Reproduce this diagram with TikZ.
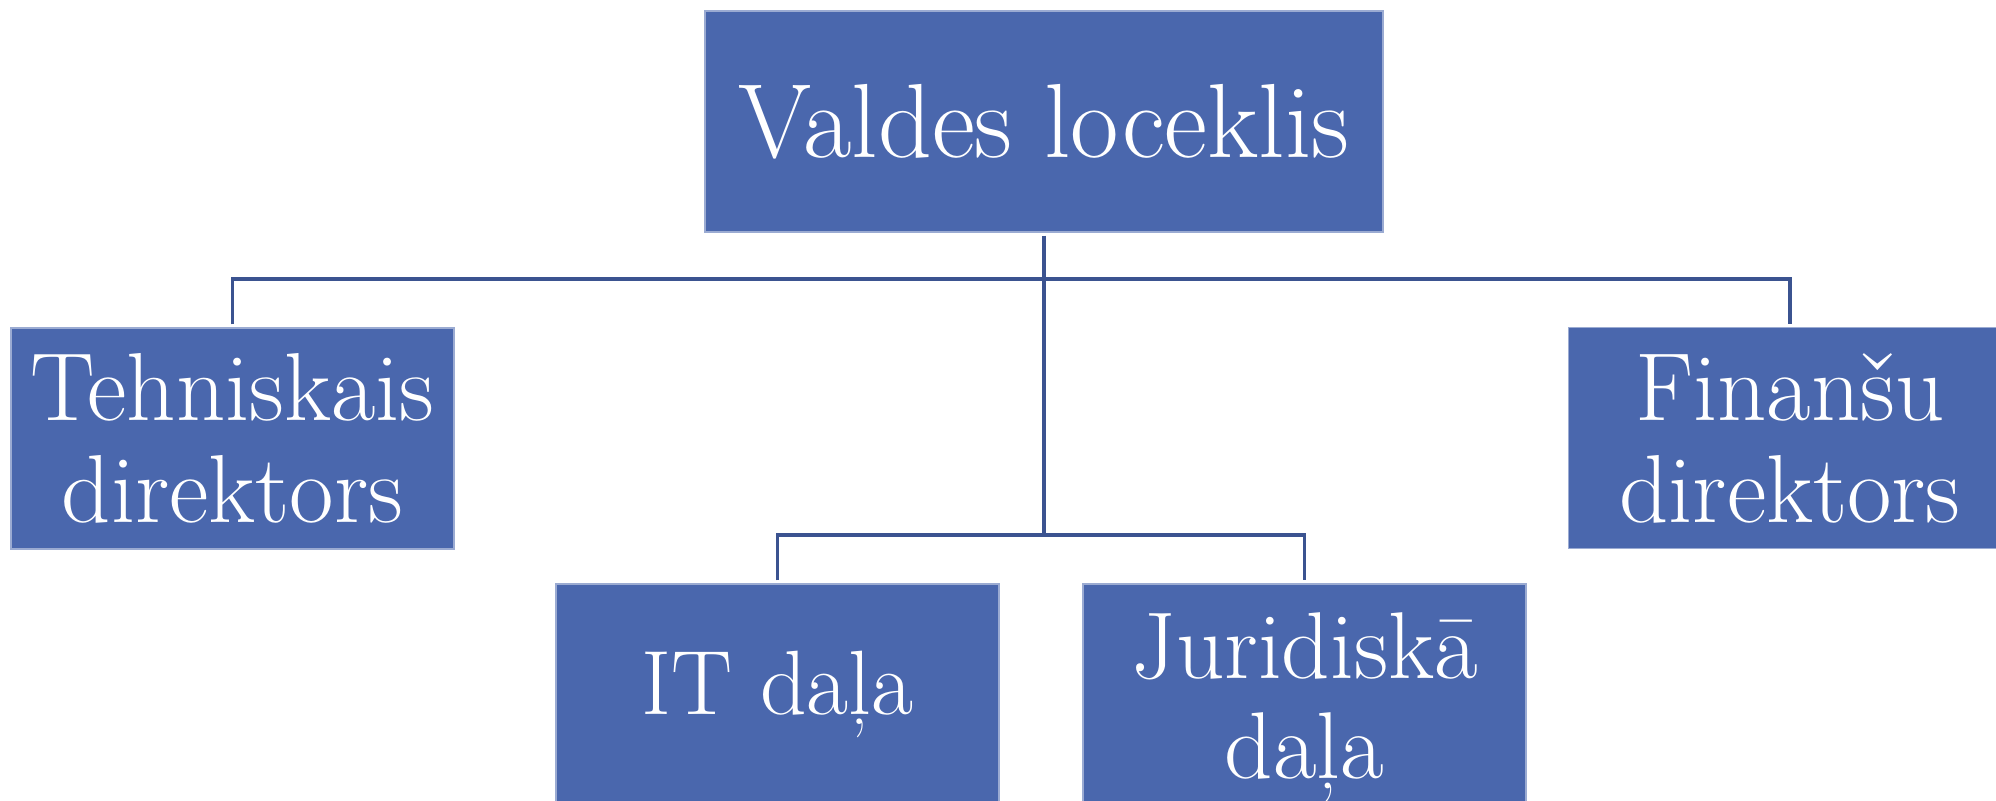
\documentclass[tikz,border=0pt]{standalone}
\usepackage{fontspec}
\definecolor{boxblue}{HTML}{4A67AD}
\definecolor{linkblue}{HTML}{3B5390}
\tikzset{
  unit/.style={rectangle, fill=boxblue, draw=boxblue!55!white, line width=0.4pt,
    text=white, minimum width=4.43cm, minimum height=2.21cm, align=center, inner sep=0pt},
  link/.style={draw=linkblue, line width=0.9pt}
}
\begin{document}
\begin{tikzpicture}
    \useasboundingbox (0,0) rectangle (19.96,-8.01);
    \clip (0,0) rectangle (19.96,-8.01);
    \node[unit, minimum width=6.78cm, font=\fontsize{30}{32}\selectfont] (V) at (10.44,-1.215)
      {Valdes loceklis};
    \node[unit, font=\fontsize{27.5}{29}\selectfont] (T) at (2.325,-4.385)
      {Tehniskais\\ direktors};
    \node[unit, font=\fontsize{27.5}{29}\selectfont] (F) at (17.90,-4.38)
      {Finanšu\\ direktors};
    \node[unit, font=\fontsize{26}{30}\selectfont] (IT) at (7.775,-6.945)
      {IT daļa};
    \node[unit, font=\fontsize{27}{28.5}\selectfont] (J) at (13.045,-6.945)
      {\raisebox{-0.14cm}[\height][\depth]{\begin{tabular}{@{}c@{}}Juridiskā\\ daļa\end{tabular}}};
    % junctions
    \coordinate (top) at (10.44,-2.79);
    \coordinate (low) at (10.44,-5.35);
    \draw[link] ([yshift=-0.03cm]V.south) -- (low);
    \draw[link] ([yshift=0.03cm]T.north) |- (top) -| ([yshift=0.03cm]F.north);
    \draw[link] ([yshift=0.03cm]IT.north) |- (low) -| ([yshift=0.03cm]J.north);
\end{tikzpicture}
\end{document}
